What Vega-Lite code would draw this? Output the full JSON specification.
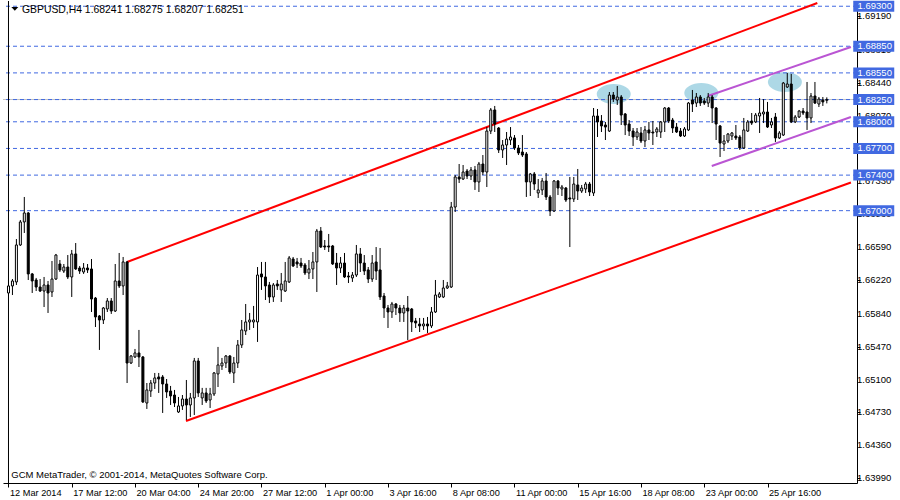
{
  "$schema": "https://vega.github.io/schema/vega-lite/v6.json",
  "width": 854,
  "height": 482,
  "autosize": {"type": "none"},
  "padding": {"left": 3, "top": 1, "right": 43, "bottom": 17},
  "background": "white",
  "config": {
    "view": {"stroke": null},
    "font": "Liberation Sans",
    "axis": {"domainColor": "black", "tickColor": "black", "labelColor": "black", "labelFont": "Liberation Sans", "labelFontSize": 9.5, "grid": false, "domainWidth": 1, "tickWidth": 1, "labelOverlap": false, "labelSeparation": 0},
    "axisY": {"labelOverlap": false},
    "axisRight": {"labelOverlap": false}
  },
  "datasets": {
    "candles": [
      {"i":0,"o":1.66074,"h":1.6622,"l":1.6604,"c":1.66153},
      {"i":1,"o":1.66153,"h":1.66231,"l":1.66051,"c":1.66209},
      {"i":2,"o":1.66198,"h":1.66681,"l":1.66164,"c":1.66614},
      {"i":3,"o":1.66614,"h":1.66895,"l":1.66603,"c":1.66873},
      {"i":4,"o":1.66873,"h":1.67154,"l":1.66749,"c":1.66974},
      {"i":5,"o":1.66974,"h":1.66985,"l":1.6622,"c":1.66288},
      {"i":6,"o":1.66288,"h":1.66299,"l":1.66074,"c":1.66209},
      {"i":7,"o":1.6622,"h":1.66243,"l":1.66096,"c":1.66141},
      {"i":8,"o":1.66141,"h":1.66231,"l":1.66085,"c":1.66096},
      {"i":9,"o":1.66096,"h":1.66254,"l":1.65916,"c":1.66164},
      {"i":10,"o":1.66164,"h":1.66209,"l":1.65849,"c":1.66074},
      {"i":11,"o":1.66085,"h":1.66434,"l":1.66029,"c":1.66231},
      {"i":12,"o":1.66231,"h":1.66513,"l":1.6622,"c":1.66501},
      {"i":13,"o":1.664,"h":1.66445,"l":1.6631,"c":1.66333},
      {"i":14,"o":1.66321,"h":1.664,"l":1.66299,"c":1.66366},
      {"i":15,"o":1.66366,"h":1.66501,"l":1.66231,"c":1.66254},
      {"i":16,"o":1.66254,"h":1.66558,"l":1.66029,"c":1.66513},
      {"i":17,"o":1.66513,"h":1.66636,"l":1.66333,"c":1.66344},
      {"i":18,"o":1.66355,"h":1.66378,"l":1.66288,"c":1.66321},
      {"i":19,"o":1.6631,"h":1.66411,"l":1.66288,"c":1.66355},
      {"i":20,"o":1.66355,"h":1.664,"l":1.66299,"c":1.66333},
      {"i":21,"o":1.66344,"h":1.66456,"l":1.6586,"c":1.66006},
      {"i":22,"o":1.66017,"h":1.66029,"l":1.65691,"c":1.65804},
      {"i":23,"o":1.65815,"h":1.65826,"l":1.65433,"c":1.6577},
      {"i":24,"o":1.6577,"h":1.65916,"l":1.65725,"c":1.65905},
      {"i":25,"o":1.65894,"h":1.66017,"l":1.6586,"c":1.65984},
      {"i":26,"o":1.65984,"h":1.66017,"l":1.65838,"c":1.65871},
      {"i":27,"o":1.65871,"h":1.664,"l":1.6586,"c":1.66209},
      {"i":28,"o":1.66209,"h":1.66524,"l":1.6613,"c":1.66153},
      {"i":29,"o":1.66153,"h":1.66479,"l":1.66051,"c":1.66423},
      {"i":30,"o":1.66423,"h":1.66434,"l":1.65061,"c":1.65286},
      {"i":31,"o":1.65286,"h":1.65376,"l":1.65275,"c":1.65365},
      {"i":32,"o":1.65354,"h":1.65444,"l":1.65343,"c":1.65399},
      {"i":33,"o":1.65399,"h":1.65658,"l":1.65241,"c":1.65354},
      {"i":34,"o":1.65354,"h":1.65365,"l":1.64836,"c":1.64848},
      {"i":35,"o":1.64836,"h":1.65061,"l":1.64769,"c":1.64983},
      {"i":36,"o":1.64971,"h":1.65095,"l":1.64904,"c":1.65061},
      {"i":37,"o":1.65061,"h":1.65174,"l":1.64994,"c":1.65118},
      {"i":38,"o":1.65129,"h":1.65174,"l":1.64949,"c":1.65106},
      {"i":39,"o":1.65129,"h":1.65151,"l":1.64724,"c":1.6505},
      {"i":40,"o":1.6505,"h":1.65106,"l":1.64893,"c":1.6496},
      {"i":41,"o":1.64971,"h":1.65028,"l":1.64814,"c":1.64915},
      {"i":42,"o":1.64926,"h":1.64983,"l":1.64791,"c":1.64836},
      {"i":43,"o":1.64735,"h":1.64904,"l":1.64724,"c":1.64803},
      {"i":44,"o":1.64803,"h":1.64926,"l":1.64758,"c":1.64881},
      {"i":45,"o":1.64881,"h":1.65095,"l":1.64645,"c":1.64814},
      {"i":46,"o":1.64814,"h":1.64949,"l":1.64679,"c":1.64893},
      {"i":47,"o":1.64893,"h":1.65343,"l":1.64701,"c":1.65309},
      {"i":48,"o":1.65309,"h":1.65343,"l":1.64904,"c":1.64949},
      {"i":49,"o":1.64893,"h":1.65006,"l":1.64814,"c":1.64949},
      {"i":50,"o":1.64949,"h":1.65006,"l":1.64836,"c":1.64859},
      {"i":51,"o":1.6487,"h":1.65006,"l":1.6478,"c":1.64938},
      {"i":52,"o":1.64938,"h":1.65185,"l":1.64915,"c":1.65174},
      {"i":53,"o":1.65163,"h":1.65467,"l":1.65016,"c":1.65264},
      {"i":54,"o":1.65253,"h":1.65343,"l":1.65208,"c":1.65286},
      {"i":55,"o":1.65286,"h":1.65376,"l":1.6523,"c":1.65365},
      {"i":56,"o":1.65365,"h":1.65376,"l":1.65163,"c":1.65185},
      {"i":57,"o":1.65174,"h":1.65354,"l":1.65061,"c":1.65286},
      {"i":58,"o":1.65286,"h":1.65545,"l":1.6523,"c":1.65489},
      {"i":59,"o":1.65489,"h":1.6577,"l":1.65455,"c":1.65658},
      {"i":60,"o":1.65646,"h":1.6595,"l":1.65601,"c":1.65748},
      {"i":61,"o":1.65748,"h":1.65849,"l":1.65658,"c":1.6577},
      {"i":62,"o":1.65748,"h":1.65928,"l":1.6568,"c":1.6577},
      {"i":63,"o":1.65748,"h":1.66366,"l":1.65523,"c":1.66276},
      {"i":64,"o":1.66288,"h":1.66423,"l":1.66108,"c":1.66254},
      {"i":65,"o":1.66254,"h":1.66423,"l":1.65995,"c":1.66153},
      {"i":66,"o":1.66164,"h":1.66198,"l":1.65961,"c":1.66029},
      {"i":67,"o":1.66029,"h":1.66186,"l":1.65973,"c":1.66164},
      {"i":68,"o":1.66175,"h":1.6622,"l":1.66108,"c":1.66153},
      {"i":69,"o":1.66108,"h":1.66299,"l":1.65973,"c":1.66175},
      {"i":70,"o":1.66096,"h":1.66423,"l":1.66085,"c":1.66209},
      {"i":71,"o":1.66198,"h":1.6649,"l":1.66186,"c":1.66468},
      {"i":72,"o":1.66456,"h":1.66479,"l":1.66366,"c":1.66378},
      {"i":73,"o":1.66423,"h":1.66468,"l":1.66355,"c":1.664},
      {"i":74,"o":1.66411,"h":1.66468,"l":1.66355,"c":1.66378},
      {"i":75,"o":1.66389,"h":1.66411,"l":1.66276,"c":1.66299},
      {"i":76,"o":1.66299,"h":1.66445,"l":1.66231,"c":1.66344},
      {"i":77,"o":1.66344,"h":1.66535,"l":1.66231,"c":1.66423},
      {"i":78,"o":1.66423,"h":1.66794,"l":1.66085,"c":1.66771},
      {"i":79,"o":1.66771,"h":1.66816,"l":1.6658,"c":1.66591},
      {"i":80,"o":1.66603,"h":1.6667,"l":1.66558,"c":1.66591},
      {"i":81,"o":1.66603,"h":1.66738,"l":1.66535,"c":1.66591},
      {"i":82,"o":1.66603,"h":1.66614,"l":1.66389,"c":1.664},
      {"i":83,"o":1.66411,"h":1.66524,"l":1.66164,"c":1.66355},
      {"i":84,"o":1.66355,"h":1.66479,"l":1.66299,"c":1.66411},
      {"i":85,"o":1.66411,"h":1.66524,"l":1.66243,"c":1.66254},
      {"i":86,"o":1.66265,"h":1.6631,"l":1.66186,"c":1.66254},
      {"i":87,"o":1.66243,"h":1.6631,"l":1.66198,"c":1.66276},
      {"i":88,"o":1.66276,"h":1.66614,"l":1.66254,"c":1.66513},
      {"i":89,"o":1.66513,"h":1.6658,"l":1.6631,"c":1.66411},
      {"i":90,"o":1.66411,"h":1.66501,"l":1.66276,"c":1.66321},
      {"i":91,"o":1.66333,"h":1.66366,"l":1.66186,"c":1.66231},
      {"i":92,"o":1.66231,"h":1.66501,"l":1.66198,"c":1.66411},
      {"i":93,"o":1.66423,"h":1.66591,"l":1.6622,"c":1.66321},
      {"i":94,"o":1.66333,"h":1.6658,"l":1.65995,"c":1.66029},
      {"i":95,"o":1.6604,"h":1.66074,"l":1.65793,"c":1.65905},
      {"i":96,"o":1.65905,"h":1.65939,"l":1.6568,"c":1.6586},
      {"i":97,"o":1.6586,"h":1.65973,"l":1.65793,"c":1.6595},
      {"i":98,"o":1.6595,"h":1.65961,"l":1.65826,"c":1.65905},
      {"i":99,"o":1.65905,"h":1.65939,"l":1.65748,"c":1.65849},
      {"i":100,"o":1.65849,"h":1.65939,"l":1.65748,"c":1.65905},
      {"i":101,"o":1.65905,"h":1.6604,"l":1.65545,"c":1.65871},
      {"i":102,"o":1.65894,"h":1.65905,"l":1.65635,"c":1.65748},
      {"i":103,"o":1.65759,"h":1.65793,"l":1.6568,"c":1.65736},
      {"i":104,"o":1.65725,"h":1.65793,"l":1.65635,"c":1.65703},
      {"i":105,"o":1.65703,"h":1.65793,"l":1.65658,"c":1.65725},
      {"i":106,"o":1.65725,"h":1.65804,"l":1.65624,"c":1.65703},
      {"i":107,"o":1.65703,"h":1.65916,"l":1.6568,"c":1.6586},
      {"i":108,"o":1.6586,"h":1.6622,"l":1.65849,"c":1.66051},
      {"i":109,"o":1.66029,"h":1.66085,"l":1.66017,"c":1.66063},
      {"i":110,"o":1.66029,"h":1.6622,"l":1.66017,"c":1.6613},
      {"i":111,"o":1.6613,"h":1.66198,"l":1.66119,"c":1.66153},
      {"i":112,"o":1.66141,"h":1.67098,"l":1.6613,"c":1.67041},
      {"i":113,"o":1.67041,"h":1.67401,"l":1.66985,"c":1.67379},
      {"i":114,"o":1.67379,"h":1.67525,"l":1.67311,"c":1.67356},
      {"i":115,"o":1.67356,"h":1.67514,"l":1.67345,"c":1.67435},
      {"i":116,"o":1.67446,"h":1.67469,"l":1.67356,"c":1.6739},
      {"i":117,"o":1.6739,"h":1.67491,"l":1.67345,"c":1.67458},
      {"i":118,"o":1.67458,"h":1.67503,"l":1.67233,"c":1.67323},
      {"i":119,"o":1.67323,"h":1.67548,"l":1.6721,"c":1.67525},
      {"i":120,"o":1.67525,"h":1.67626,"l":1.67401,"c":1.67435},
      {"i":121,"o":1.67435,"h":1.67941,"l":1.67266,"c":1.67896},
      {"i":122,"o":1.67896,"h":1.68155,"l":1.67862,"c":1.68133},
      {"i":123,"o":1.68133,"h":1.68178,"l":1.67885,"c":1.67975},
      {"i":124,"o":1.6793,"h":1.67941,"l":1.67649,"c":1.67683},
      {"i":125,"o":1.67683,"h":1.67795,"l":1.67593,"c":1.67739},
      {"i":126,"o":1.67739,"h":1.67885,"l":1.67514,"c":1.67806},
      {"i":127,"o":1.67795,"h":1.67941,"l":1.67739,"c":1.67829},
      {"i":128,"o":1.67818,"h":1.67851,"l":1.67683,"c":1.67705},
      {"i":129,"o":1.67705,"h":1.67739,"l":1.67626,"c":1.67649},
      {"i":130,"o":1.6766,"h":1.67851,"l":1.67604,"c":1.67626},
      {"i":131,"o":1.67638,"h":1.6766,"l":1.67154,"c":1.67323},
      {"i":132,"o":1.67323,"h":1.67424,"l":1.67165,"c":1.67413},
      {"i":133,"o":1.67413,"h":1.67435,"l":1.67233,"c":1.673},
      {"i":134,"o":1.67199,"h":1.67356,"l":1.67143,"c":1.67233},
      {"i":135,"o":1.67233,"h":1.67368,"l":1.67176,"c":1.67334},
      {"i":136,"o":1.67334,"h":1.67424,"l":1.6712,"c":1.67154},
      {"i":137,"o":1.67154,"h":1.67176,"l":1.6694,"c":1.66996},
      {"i":138,"o":1.66996,"h":1.67345,"l":1.66985,"c":1.67334},
      {"i":139,"o":1.67334,"h":1.67345,"l":1.67176,"c":1.67255},
      {"i":140,"o":1.67244,"h":1.67289,"l":1.67165,"c":1.67266},
      {"i":141,"o":1.67255,"h":1.67266,"l":1.67098,"c":1.6712},
      {"i":142,"o":1.67143,"h":1.67379,"l":1.66591,"c":1.67131},
      {"i":143,"o":1.67131,"h":1.67379,"l":1.67098,"c":1.673},
      {"i":144,"o":1.67289,"h":1.67469,"l":1.6712,"c":1.67221},
      {"i":145,"o":1.67221,"h":1.67289,"l":1.67199,"c":1.67255},
      {"i":146,"o":1.67244,"h":1.67323,"l":1.67199,"c":1.673},
      {"i":147,"o":1.673,"h":1.67323,"l":1.67165,"c":1.6721},
      {"i":148,"o":1.67199,"h":1.68155,"l":1.67165,"c":1.68065},
      {"i":149,"o":1.68065,"h":1.68144,"l":1.67829,"c":1.67998},
      {"i":150,"o":1.68009,"h":1.68076,"l":1.67885,"c":1.67953},
      {"i":151,"o":1.67964,"h":1.67998,"l":1.67795,"c":1.67941},
      {"i":152,"o":1.67896,"h":1.68335,"l":1.67885,"c":1.68301},
      {"i":153,"o":1.68301,"h":1.68335,"l":1.68223,"c":1.68256},
      {"i":154,"o":1.68245,"h":1.68403,"l":1.68189,"c":1.68279},
      {"i":155,"o":1.68279,"h":1.68301,"l":1.67964,"c":1.68076},
      {"i":156,"o":1.68088,"h":1.68099,"l":1.67851,"c":1.67964},
      {"i":157,"o":1.67975,"h":1.6802,"l":1.6784,"c":1.67896},
      {"i":158,"o":1.67896,"h":1.6793,"l":1.67728,"c":1.67829},
      {"i":159,"o":1.67829,"h":1.6793,"l":1.67795,"c":1.67885},
      {"i":160,"o":1.67874,"h":1.67941,"l":1.67761,"c":1.67784},
      {"i":161,"o":1.67784,"h":1.67953,"l":1.67716,"c":1.67908},
      {"i":162,"o":1.67908,"h":1.67998,"l":1.67795,"c":1.67874},
      {"i":163,"o":1.67885,"h":1.68009,"l":1.67739,"c":1.67874},
      {"i":164,"o":1.67885,"h":1.67941,"l":1.67829,"c":1.67919},
      {"i":165,"o":1.67885,"h":1.68009,"l":1.67818,"c":1.67998},
      {"i":166,"o":1.67998,"h":1.68166,"l":1.67885,"c":1.68155},
      {"i":167,"o":1.68155,"h":1.68166,"l":1.67986,"c":1.68009},
      {"i":168,"o":1.6802,"h":1.68043,"l":1.67874,"c":1.6793},
      {"i":169,"o":1.67941,"h":1.67986,"l":1.67874,"c":1.67885},
      {"i":170,"o":1.67896,"h":1.6793,"l":1.67829,"c":1.6784},
      {"i":171,"o":1.6784,"h":1.67941,"l":1.67829,"c":1.67919},
      {"i":172,"o":1.67908,"h":1.68223,"l":1.67896,"c":1.68211},
      {"i":173,"o":1.68245,"h":1.68358,"l":1.6811,"c":1.682},
      {"i":174,"o":1.68211,"h":1.68324,"l":1.68166,"c":1.68279},
      {"i":175,"o":1.68279,"h":1.68301,"l":1.68178,"c":1.68211},
      {"i":176,"o":1.68234,"h":1.68268,"l":1.68189,"c":1.68211},
      {"i":177,"o":1.68211,"h":1.68324,"l":1.68166,"c":1.68279},
      {"i":178,"o":1.68279,"h":1.68301,"l":1.67986,"c":1.68155},
      {"i":179,"o":1.68155,"h":1.68166,"l":1.67795,"c":1.67975},
      {"i":180,"o":1.67953,"h":1.67964,"l":1.67604,"c":1.67761},
      {"i":181,"o":1.6775,"h":1.67851,"l":1.67671,"c":1.67784},
      {"i":182,"o":1.67784,"h":1.67874,"l":1.67761,"c":1.67862},
      {"i":183,"o":1.6784,"h":1.67885,"l":1.67795,"c":1.67874},
      {"i":184,"o":1.6784,"h":1.67964,"l":1.67795,"c":1.67818},
      {"i":185,"o":1.67829,"h":1.67851,"l":1.67683,"c":1.67705},
      {"i":186,"o":1.67705,"h":1.68043,"l":1.67694,"c":1.67908},
      {"i":187,"o":1.67896,"h":1.6802,"l":1.67885,"c":1.67998},
      {"i":188,"o":1.68009,"h":1.68099,"l":1.67964,"c":1.67986},
      {"i":189,"o":1.67998,"h":1.68099,"l":1.67986,"c":1.68076},
      {"i":190,"o":1.68065,"h":1.68268,"l":1.67874,"c":1.68099},
      {"i":191,"o":1.68088,"h":1.68256,"l":1.67986,"c":1.6811},
      {"i":192,"o":1.6811,"h":1.68223,"l":1.6793,"c":1.67941},
      {"i":193,"o":1.67964,"h":1.68043,"l":1.6793,"c":1.67998},
      {"i":194,"o":1.68054,"h":1.68099,"l":1.67773,"c":1.67818},
      {"i":195,"o":1.67818,"h":1.67896,"l":1.67806,"c":1.67874},
      {"i":196,"o":1.67851,"h":1.68448,"l":1.6784,"c":1.68436},
      {"i":197,"o":1.68391,"h":1.68549,"l":1.6838,"c":1.68425},
      {"i":198,"o":1.68425,"h":1.68538,"l":1.67986,"c":1.67998},
      {"i":199,"o":1.67998,"h":1.68076,"l":1.67986,"c":1.68054},
      {"i":200,"o":1.68054,"h":1.68133,"l":1.68043,"c":1.68121},
      {"i":201,"o":1.68121,"h":1.68155,"l":1.68076,"c":1.68099},
      {"i":202,"o":1.6811,"h":1.68448,"l":1.67908,"c":1.68043},
      {"i":203,"o":1.68043,"h":1.68324,"l":1.67986,"c":1.6829},
      {"i":204,"o":1.6829,"h":1.68448,"l":1.682,"c":1.68211},
      {"i":205,"o":1.682,"h":1.68279,"l":1.68166,"c":1.68256},
      {"i":206,"o":1.68245,"h":1.68279,"l":1.68178,"c":1.68223},
      {"i":207,"o":1.68241,"h":1.68275,"l":1.68207,"c":1.68251}
    ],
    "levels": [
      {"p":1.693},{"p":1.6885},{"p":1.6855},{"p":1.6825},{"p":1.68},{"p":1.677},{"p":1.674},{"p":1.67}
    ],
    "ticksY": [
      {"p":1.6919},{"p":1.6881},{"p":1.6844},{"p":1.6807},{"p":1.677},{"p":1.6733},{"p":1.6696},{"p":1.6659},{"p":1.6622},{"p":1.6584},{"p":1.6547},{"p":1.651},{"p":1.6473},{"p":1.6436},{"p":1.6399}
    ],
    "channels": [
      {"line":"r1","i":30,"p":1.66423},{"line":"r1","i":204.6,"p":1.69336},
      {"line":"r2","i":44.9,"p":1.64634},{"line":"r2","i":213.1,"p":1.67317},
      {"line":"p1","i":176.9,"p":1.6829},{"line":"p1","i":213.1,"p":1.68841},
      {"line":"p2","i":177.9,"p":1.67503},{"line":"p2","i":213.1,"p":1.68054}
    ],
    "ellipses": [
      {"i":153.1,"p":1.68313},{"i":175.25,"p":1.68324},{"i":196.4,"p":1.68448}
    ]
  },
  "layer": [
    {
      "data": {"name": "ellipses"},
      "mark": {"type": "point", "shape": "M -1 0 C -1 -0.326 -0.552 -0.59 0 -0.59 C 0.552 -0.59 1 -0.326 1 0 C 1 0.326 0.552 0.59 0 0.59 C -0.552 0.59 -1 0.326 -1 0 Z", "size": 1156, "filled": true, "fill": "#ADD8E6", "opacity": 1, "strokeWidth": 0, "clip": true},
      "encoding": {
        "x": {"field": "i", "type": "quantitative", "title": null, "scale": {"domain": [-0.125, 213.375], "nice": false, "zero": false},
          "axis": {"values": [0,16,32,48,64,80,96,112,128,144,160,176,192], "tickSize": 4, "labelAlign": "left", "labelOffset": 1, "labelPadding": 1, "labelFlush": false, "labelOverlap": false, "labelBound": false, "labelFontSize": 9.2, "domainColor": "black",
            "labelExpr": "['12 Mar 2014','17 Mar 12:00','20 Mar 04:00','24 Mar 20:00','27 Mar 12:00','1 Apr 00:00','3 Apr 16:00','8 Apr 08:00','11 Apr 00:00','15 Apr 16:00','18 Apr 08:00','23 Apr 00:00','25 Apr 16:00'][round(datum.value/16)]"}},
        "y": {"field": "p", "type": "quantitative", "title": null, "scale": {"domain": [1.63936, 1.69359], "nice": false, "zero": false},
          "axis": {"orient": "right", "values": [1.6919,1.6881,1.6844,1.6807,1.677,1.6733,1.6696,1.6659,1.6622,1.6584,1.6547,1.651,1.6473,1.6436,1.6399], "labels": false, "tickSize": 3, "labelOverlap": false}}
      }
    },
    {
      "data": {"name": "ticksY"},
      "mark": {"type": "text", "fill": "black", "font": "Liberation Sans", "fontSize": 9.5, "align": "left", "baseline": "middle", "dx": 5},
      "encoding": {
        "x": {"datum": 213.375, "type": "quantitative"},
        "y": {"field": "p", "type": "quantitative", "title": null},
        "text": {"field": "p", "type": "quantitative", "format": ".5f"}
      }
    },
    {
      "data": {"values": [{"p": 1.68251}]},
      "mark": {"type": "rule", "stroke": "#C0C0C0", "strokeWidth": 1},
      "encoding": {"y": {"field": "p", "type": "quantitative", "title": null}}
    },
    {
      "data": {"name": "levels"},
      "mark": {"type": "rule", "stroke": "#4169E1", "strokeWidth": 1, "strokeDash": [4, 3]},
      "encoding": {"y": {"field": "p", "type": "quantitative", "title": null}}
    },
    {
      "data": {"values": [{"i": 0}]},
      "mark": {"type": "rule", "stroke": "black", "strokeWidth": 1},
      "encoding": {"x": {"field": "i", "type": "quantitative", "title": null}}
    },
    {
      "data": {"name": "channels"},
      "mark": {"type": "line", "strokeWidth": 2, "clip": true},
      "encoding": {
        "x": {"field": "i", "type": "quantitative", "title": null},
        "y": {"field": "p", "type": "quantitative", "title": null},
        "detail": {"field": "line"},
        "color": {"field": "line", "type": "nominal", "scale": {"domain": ["r1", "r2", "p1", "p2"], "range": ["#FF0000", "#FF0000", "#BA55D3", "#BA55D3"]}, "legend": null}
      }
    },
    {
      "data": {"name": "candles"},
      "mark": {"type": "rule", "stroke": "black", "strokeWidth": 1, "clip": true},
      "encoding": {
        "x": {"field": "i", "type": "quantitative", "title": null},
        "y": {"field": "l", "type": "quantitative", "title": null},
        "y2": {"field": "h"}
      }
    },
    {
      "data": {"name": "candles"},
      "mark": {"type": "bar", "width": 2, "stroke": "black", "strokeWidth": 1, "clip": true},
      "encoding": {
        "x": {"field": "i", "type": "quantitative", "title": null},
        "y": {"field": "o", "type": "quantitative", "title": null},
        "y2": {"field": "c"},
        "fill": {"condition": {"test": "datum.c >= datum.o", "value": "white"}, "value": "black"}
      }
    },
    {
      "data": {"name": "levels"},
      "mark": {"type": "point", "shape": "M -1 -0.268 L 1 -0.268 L 1 0.268 L -1 0.268 Z", "size": 1681, "filled": true, "fill": "#4169E1", "opacity": 1, "strokeWidth": 0},
      "encoding": {
        "x": {"datum": 218.875, "type": "quantitative"},
        "y": {"field": "p", "type": "quantitative", "title": null}
      }
    },
    {
      "data": {"name": "levels"},
      "mark": {"type": "text", "fill": "white", "font": "Liberation Sans", "fontSize": 9.5, "align": "center", "baseline": "middle", "dx": 1},
      "encoding": {
        "x": {"datum": 218.875, "type": "quantitative"},
        "y": {"field": "p", "type": "quantitative", "title": null},
        "text": {"field": "p", "type": "quantitative", "format": ".5f"}
      }
    },
    {
      "data": {"values": [{"t": "GBPUSD,H4  1.68241 1.68275 1.68207 1.68251", "i": 3.4, "p": 1.69263}]},
      "mark": {"type": "text", "fill": "black", "font": "Liberation Sans", "fontSize": 10.4, "align": "left", "baseline": "middle"},
      "encoding": {
        "x": {"field": "i", "type": "quantitative", "title": null},
        "y": {"field": "p", "type": "quantitative", "title": null},
        "text": {"field": "t"}
      }
    },
    {
      "data": {"values": [{"i": 1.6, "p": 1.69271}]},
      "mark": {"type": "point", "shape": "M -1 -0.55 L 1 -0.55 L 0 0.55 Z", "size": 49, "filled": true, "fill": "black", "opacity": 1, "strokeWidth": 0},
      "encoding": {
        "x": {"field": "i", "type": "quantitative", "title": null},
        "y": {"field": "p", "type": "quantitative", "title": null}
      }
    },
    {
      "data": {"values": [{"t": "GCM MetaTrader, © 2001-2014, MetaQuotes Software Corp.", "i": 0.7, "p": 1.64026}]},
      "mark": {"type": "text", "fill": "black", "font": "Liberation Sans", "fontSize": 9.5, "align": "left", "baseline": "middle"},
      "encoding": {
        "x": {"field": "i", "type": "quantitative", "title": null},
        "y": {"field": "p", "type": "quantitative", "title": null},
        "text": {"field": "t"}
      }
    }
  ]
}
